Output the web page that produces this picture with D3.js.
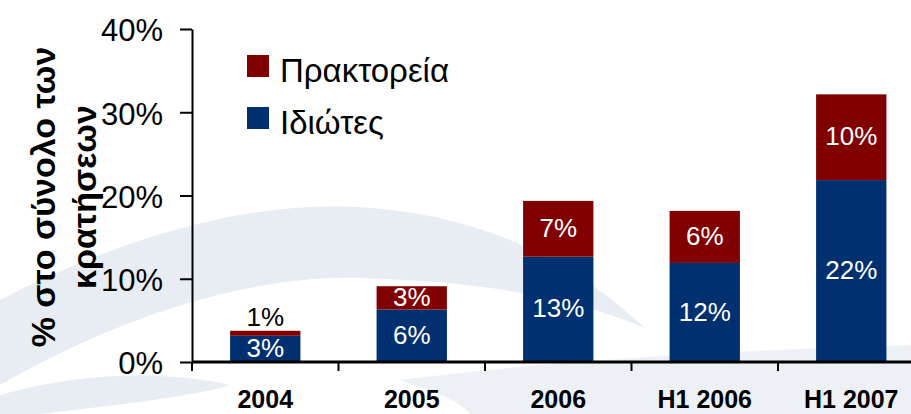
<!DOCTYPE html>
<html>
<head>
<meta charset="utf-8">
<script src="https://cdn.jsdelivr.net/npm/d3@7"></script>
<style>
  body { margin: 0; background: #fff; }
  svg { display: block; font-family: "Liberation Sans", Arial, sans-serif; }
</style>
</head>
<body>
<svg id="chart" width="911" height="414"></svg>
<script>
// values (% of all bookings)
const categories = ["2004", "2005", "2006", "H1 2006", "H1 2007"];
const idiotes = [3.15, 6.3, 12.65, 11.9, 21.85];
const praktoreia = [0.6, 2.8, 6.7, 6.25, 10.3];
const yTicks = [0, 10, 20, 30, 40];
const seriesNames = ["Πρακτορεία", "Ιδιώτες"];

const colors = { "Ιδιώτες": "#00306f", "Πρακτορεία": "#800000" };

const svg = d3.select("#chart");
const W = 911, H = 414;
const plotLeft = 192, plotTop = 29, plotBottom = 362;

// faint background swooshes (watermark)
const bg = svg.append("g").attr("fill", "#e8edf4");
bg.append("path").attr("d",
  "M0,300 C120,238 250,200 360,207 C470,214 560,250 645,328 " +
  "C560,292 470,282 360,278 C240,275 110,322 0,385 Z");
bg.append("path").attr("d",
  "M0,395 C90,370 170,372 230,385 C200,395 120,405 40,414 L0,414 Z");
bg.append("path").attr("d",
  "M400,380 C560,360 740,350 911,345 L911,414 L470,414 C460,400 430,390 400,380 Z")
  .attr("fill", "#edf1f6");

const x = d3.scaleBand()
  .domain(categories)
  .range([plotLeft, plotLeft + 146.5 * categories.length])
  .paddingInner(0.52)
  .paddingOuter(0.26);

const y = d3.scaleLinear().domain([0, 40]).range([plotBottom, plotTop]);

const rows = categories.map((c, i) => ({
  cat: c, "Ιδιώτες": idiotes[i], "Πρακτορεία": praktoreia[i]
}));
const stack = d3.stack().keys(["Ιδιώτες", "Πρακτορεία"])(rows);

const layers = svg.append("g").selectAll("g").data(stack).join("g")
  .attr("fill", d => colors[d.key]);

layers.selectAll("rect").data(d => d).join("rect")
  .attr("x", d => x(d.data.cat))
  .attr("width", x.bandwidth())
  .attr("y", d => y(d[1]))
  .attr("height", d => y(d[0]) - y(d[1]));

// value labels
stack.forEach(layer => {
  layer.forEach(d => {
    const v = d[1] - d[0];
    const small = y(d[0]) - y(d[1]) < 12;
    svg.append("text")
      .attr("x", x(d.data.cat) + x.bandwidth() / 2)
      .attr("y", small ? y(d[1]) - 5 : (y(d[0]) + y(d[1])) / 2 - 1)
      .attr("dy", small ? 0 : "0.35em")
      .attr("text-anchor", "middle")
      .attr("font-size", 26)
      .attr("fill", small ? "#000" : "#fff")
      .text(Math.round(v) + "%");
  });
});

// y axis
const yAxis = svg.append("g")
  .attr("transform", `translate(${plotLeft},0)`)
  .call(d3.axisLeft(y).tickValues(yTicks).tickFormat(d => d + "%").tickSize(12).tickSizeOuter(0));
yAxis.select(".domain").attr("stroke", "#000").attr("stroke-width", 2);
yAxis.selectAll(".tick line").attr("stroke", "#000").attr("stroke-width", 2);
yAxis.selectAll(".tick text").attr("font-size", 31).attr("font-family", "Liberation Sans, Arial, sans-serif")
  .attr("fill", "#000").attr("x", -29).attr("dy", "0.38em");

// x axis
const xg = svg.append("g");
xg.append("line").attr("x1", plotLeft).attr("x2", W).attr("y1", plotBottom).attr("y2", plotBottom)
  .attr("stroke", "#000").attr("stroke-width", 3);
const gap = (x.step() - x.bandwidth()) / 2;
const bounds = categories.map(c => x(c) - gap).concat([x(categories[categories.length - 1]) + x.bandwidth() + gap]);
xg.selectAll(".xt").data(bounds).join("line")
  .attr("x1", d => d).attr("x2", d => d)
  .attr("y1", plotBottom).attr("y2", plotBottom + 9)
  .attr("stroke", "#000").attr("stroke-width", 2);
xg.selectAll(".xl").data(categories).join("text")
  .attr("x", d => x(d) + x.bandwidth() / 2)
  .attr("y", 408)
  .attr("text-anchor", "middle")
  .attr("font-size", 25)
  .attr("font-weight", "bold")
  .text(d => d);

// y axis title
const yt = svg.append("text")
  .attr("transform", "translate(0,197) rotate(-90)")
  .attr("text-anchor", "middle")
  .attr("font-size", 34)
  .attr("font-weight", "bold");
yt.append("tspan").attr("x", 0).attr("y", 55).text("% στο σύνολο των");
yt.append("tspan").attr("x", 0).attr("y", 96).text("κρατήσεων");

// legend
const lg = svg.append("g");
seriesNames.forEach((s, i) => {
  const cy = 66 + i * 52;
  lg.append("rect").attr("x", 247).attr("y", cy - 11).attr("width", 22).attr("height", 22)
    .attr("fill", colors[s]);
  lg.append("text").attr("x", 280).attr("y", cy + 16)
    .attr("font-size", 33).text(s);
});
</script>
</body>
</html>
